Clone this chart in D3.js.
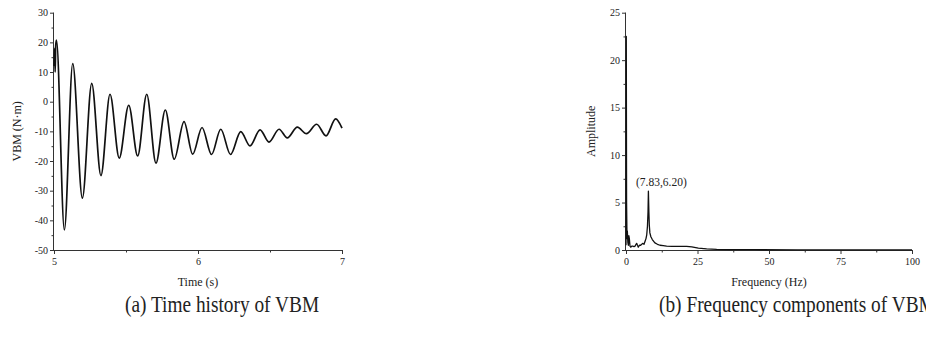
<!DOCTYPE html>
<html><head><meta charset="utf-8">
<script src="https://cdn.jsdelivr.net/npm/d3@7"></script>
<style>
html,body{margin:0;padding:0;background:#fff;}
svg text{font-family:"Liberation Serif","Times New Roman",serif;fill:#222;}
</style></head>
<body><svg id="c" width="926" height="346"></svg>
<script>
// ---- data ----
const timeS = [5.000, 5.004, 5.008, 5.012, 5.017, 5.072, 5.130, 5.197, 5.262, 5.326, 5.389, 5.453, 5.519, 5.581, 5.644, 5.708, 5.773, 5.835, 5.903, 5.963, 6.028, 6.094, 6.158, 6.226, 6.297, 6.361, 6.431, 6.493, 6.563, 6.620, 6.690, 6.753, 6.824, 6.889, 6.956, 7.000];
const vbm = [12, 18, 10, 19, 20.8, -43.2, 12.8, -32.5, 6.2, -24.9, 2.5, -19.0, -1.2, -18.3, 2.5, -20.7, -2.8, -19.4, -6.7, -17.7, -8.7, -17.8, -9.3, -17.8, -10.1, -14.9, -9.5, -13.6, -9.3, -12.2, -8.6, -10.8, -7.6, -11.5, -5.8, -8.9];
const freqHz = [0, 0.1, 0.2, 0.35, 0.47, 0.65, 0.82, 1.0, 1.17, 1.4, 1.63, 2.0, 2.33, 2.8, 3.15, 3.5, 3.73, 4.0, 4.31, 4.7, 5.13, 5.5, 5.83, 6.29, 6.64, 6.99, 7.25, 7.5, 7.7, 7.83, 8.0, 8.15, 8.35, 8.7, 9.2, 10.1, 11.0, 11.9, 13.0, 14.2, 16.0, 18.9, 21.2, 23.0, 25.3, 28.2, 31.7, 36.4, 45, 60, 80, 100];
const amplitude = [0.5, 22.5, 5, 1.2, 2.0, 0.8, 0.5, 1.5, 1.2, 0.4, 0.3, 0.4, 0.4, 0.35, 0.4, 0.6, 0.7, 0.5, 0.3, 0.5, 0.5, 0.6, 0.7, 0.6, 0.9, 1.2, 1.6, 2.5, 4.0, 6.2, 4.0, 2.6, 1.8, 1.4, 1.1, 0.75, 0.6, 0.5, 0.45, 0.4, 0.38, 0.38, 0.38, 0.32, 0.2, 0.12, 0.07, 0.04, 0.03, 0.02, 0.02, 0.02];
const timeTicks = [5, 6, 7];
const timeMinor = [5.5, 6.5];
const vbmTicks = [-50, -40, -30, -20, -10, 0, 10, 20, 30];
const vbmMinor = [-45, -35, -25, -15, -5, 5, 15, 25];
const freqTicks = [0, 25, 50, 75, 100];
const freqMinor = [12.5, 37.5, 62.5, 87.5];
const ampTicks = [0, 5, 10, 15, 20, 25];
const ampMinor = [2.5, 7.5, 12.5, 17.5, 22.5];
const peakLabel = "(7.83,6.20)";
const captions = ["(a) Time history of VBM", "(b) Frequency components of VBM"];

const svg = d3.select("#c");

function drawAxes(x, y, xt, xm, yt, ym, xTitle, yTitle, yTitleX) {
  const g = svg.append("g");
  const [x0, x1] = x.range(), [y0, y1] = y.range();
  const ax = g.append("g").attr("transform", `translate(0,${y0})`)
    .call(d3.axisBottom(x).tickValues(xt).tickSize(4).tickPadding(4).tickFormat(d => String(d)));
  const axm = g.append("g").attr("transform", `translate(0,${y0})`)
    .call(d3.axisBottom(x).tickValues(xm).tickSize(2.5).tickFormat(""));
  const ay = g.append("g").attr("transform", `translate(${x0},0)`)
    .call(d3.axisLeft(y).tickValues(yt).tickSize(4).tickPadding(2).tickFormat(d => String(d)));
  const aym = g.append("g").attr("transform", `translate(${x0},0)`)
    .call(d3.axisLeft(y).tickValues(ym).tickSize(2.5).tickFormat(""));
  [ax, axm, ay, aym].forEach(a => {
    a.select(".domain").attr("stroke", "#333").attr("stroke-width", 1);
    a.selectAll(".tick line").attr("stroke", "#333");
    a.selectAll("text").style("font-size", "10px").attr("fill", "#222");
  });
  axm.select(".domain").remove(); aym.select(".domain").remove();
  ax.select(".domain").attr("d", `M${x0},0.5H${x1}`);
  ay.select(".domain").attr("d", `M-0.5,${y0}V${y1}`);
  g.append("text").attr("x", (x0 + x1) / 2).attr("y", 286).attr("text-anchor", "middle")
    .style("font-size", "12px").text(xTitle);
  g.append("text").attr("transform", `translate(${yTitleX},${(y0 + y1) / 2}) rotate(-90)`)
    .attr("text-anchor", "middle").style("font-size", "12px").text(yTitle);
}

// ---- left chart ----
const xL = d3.scaleLinear().domain([5, 7]).range([54, 342]);
const yL = d3.scaleLinear().domain([-50, 30]).range([250, 12.7]);
drawAxes(xL, yL, timeTicks, timeMinor, vbmTicks, vbmMinor, "Time (s)", "VBM (N·m)", 21);
svg.append("path")
  .datum(timeS.map((t, i) => [t, vbm[i]]))
  .attr("fill", "none").attr("stroke", "#111").attr("stroke-width", 1.7)
  .attr("stroke-linejoin", "round")
  .attr("d", d3.line().x(d => xL(d[0])).y(d => yL(d[1])).curve(d3.curveMonotoneX));

// ---- right chart ----
const xR = d3.scaleLinear().domain([0, 100]).range([626, 912]);
const yR = d3.scaleLinear().domain([0, 25]).range([250, 12.7]);
drawAxes(xR, yR, freqTicks, freqMinor, ampTicks, ampMinor, "Frequency (Hz)", "Amplitude", 595);
svg.append("path")
  .datum(freqHz.map((f, i) => [f, amplitude[i]]))
  .attr("fill", "none").attr("stroke", "#111").attr("stroke-width", 1.3)
  .attr("stroke-linejoin", "round")
  .attr("d", d3.line().x(d => xR(d[0])).y(d => yR(d[1])));
svg.append("text").attr("x", xR(7.83) + 13).attr("y", yR(6.2) - 5)
  .attr("text-anchor", "middle").style("font-size", "11.5px").text(peakLabel);

// ---- captions (tall, narrow serif) ----
[[125, captions[0]], [659, captions[1]]].forEach(([cx, txt]) => {
  svg.append("text").attr("transform", `translate(${cx},312) scale(0.86,1)`)
    .style("font-size", "22.5px").attr("fill", "#111").text(txt);
});
</script></body></html>
